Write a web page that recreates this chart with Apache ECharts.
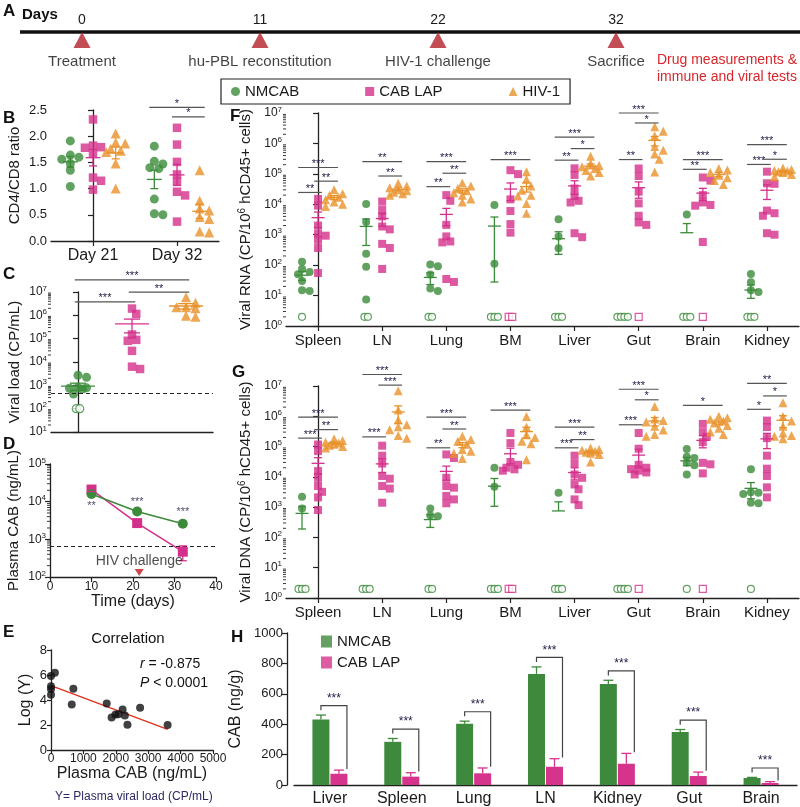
<!DOCTYPE html>
<html><head><meta charset="utf-8">
<script src="https://cdn.jsdelivr.net/npm/echarts/dist/echarts.min.js"></script>
<style>html,body{margin:0;padding:0;background:#fff}#c{width:800px;height:807px}</style>
</head><body><div id="c"></div>
<script>
// ===================== DATA =====================
// Panel A
const timelineDays = ['0', '11', '22', '32'];
const timelineEvents = ['Treatment', 'hu-PBL reconstitution', 'HIV-1 challenge', 'Sacrifice'];
const groupNames = ['NMCAB', 'CAB LAP', 'HIV-1'];
// Panel B (CD4/CD8 ratio), per day
const bDays = ['Day 21', 'Day 32'];
const bNMCAB = [[1.91, 1.64, 1.60, 1.56, 1.48, 1.35, 1.04], [1.81, 1.52, 1.47, 1.40, 1.38, 0.80, 0.50, 0.52]];
const bCABLAP = [[2.32, 1.82, 1.79, 1.78, 1.67, 1.21, 1.15, 0.98], [2.16, 1.84, 1.51, 1.27, 1.13, 0.94, 0.87, 0.37]];
const bHIV = [[2.05, 1.88, 1.86, 1.76, 1.72, 1.70, 1.48, 1.00], [1.35, 0.77, 0.62, 0.58, 0.46, 0.42, 0.18, 0.16]];
// Panel C (viral load CP/mL)
const cNMCAB = [2700, 2200, 800, 780, 750, 700, 420];
const cNMCABundetected = 2;
const cCABLAP = [1.95e6, 1.15e6, 1.5e5, 8.9e4, 8.1e4, 3.0e4, 6.3e3, 5.0e3];
const cHIV = [5.9e6, 3.5e6, 2.2e6, 2.2e6, 2.0e6, 9.5e5, 8.7e5];
const cDetectionLimit = 450;
// Panel D (plasma CAB)
const dDays = [10, 21, 32];
const dNMCAB = [16000, 5500, 2600];
const dNMCABsem = [1500, 500, 250];
const dCABLAP = [21000, 2700, 470];
const dCABLAPsem = [2500, 300, 200];
const dDetectionLimit = 650;
const dStars = ['**', '***', '***'];
const dChallengeDay = 21.5;
// Panel E (correlation)
const eCAB = [0, 0, 0, 0, 120, 690, 640, 1720, 1870, 1990, 2080, 2210, 2280, 2360, 2750, 3600];
const eLogY = [5.92, 5.10, 4.88, 4.42, 6.19, 4.90, 3.65, 3.73, 2.60, 2.85, 2.87, 3.25, 2.77, 2.03, 3.39, 2.00];
const eFitLine = [[0, 5.15], [3600, 1.65]];
const eR = '-0.875', eP = '< 0.0001';
// Panels F/G tissues
const tissuesFG = ['Spleen', 'LN', 'Lung', 'BM', 'Liver', 'Gut', 'Brain', 'Kidney'];
// F: viral RNA
const fNMCAB = [[130, 75, 60, 50, 30, 15, 14], [10200, 2600, 235, 88, 7.4], [104, 92, 49, 17, 14], [9500, 112], [3200, 870, 360], [], [4650], [51, 27.6, 15, 13]];
const fNMCABundetected = [1, 2, 2, 3, 3, 4, 3, 3];
const fCABLAP = [[15000, 9000, 2000, 1080, 930, 680, 365, 55], [12300, 6600, 4000, 1860, 1500, 500, 365, 75], [20000, 13000, 2100, 880, 600, 560, 35, 28], [132000, 98000, 14500, 6000, 2230, 1170], [152000, 92000, 33000, 18500, 13000, 11500, 1120, 830], [150000, 85000, 26000, 10700, 4200, 2530, 2100], [76000, 60000, 20000, 11500, 9500, 9000, 575], [118000, 49000, 47000, 6200, 5100, 4200, 1120, 1000]];
const fCABLAPundetected = [0, 0, 0, 2, 0, 1, 1, 0];
const fHIV = [[30000, 22000, 20000, 17000, 14000, 12000, 10000, 8500], [49000, 40000, 35000, 30000, 28000, 25000, 22000, 20000], [50000, 40000, 33000, 28000, 24000, 20000, 15000, 12000], [117000, 66000, 40000, 29000, 20000, 18800, 10700, 5100], [380000, 220000, 190000, 170000, 150000, 130000, 110000, 85000], [3.5e6, 2.5e6, 1.8e6, 800000, 600000, 450000, 300000, 115000], [150000, 135000, 110000, 90000, 75000, 60000, 45000], [155000, 140000, 130000, 125000, 118000, 110000, 95000, 80000]];
// G: viral DNA
const gNMCAB = [[2200, 910], [], [910, 530, 500], [20000, 4700], [3000], [], [83000, 46000, 42000, 29000, 24000, 12000], [17700, 3100, 3000, 2700, 1400, 1340]];
const gNMCABundetected = [3, 3, 2, 3, 3, 4, 1, 1];
const gCABLAP = [[117000, 71000, 15500, 9300, 5000, 3200, 2100, 800], [107000, 50000, 27500, 10700, 8700, 5000, 4100, 1400], [55000, 42000, 9300, 5000, 4400, 2350, 1800, 1340], [280000, 130000, 31000, 25000, 20000, 17700, 16000], [50000, 27500, 12000, 9300, 5600, 3900, 1800, 1170], [280000, 85000, 25000, 20000, 18000, 16000, 14000, 12000], [560000, 300000, 210000, 140000, 29000, 26000, 13000], [720000, 440000, 190000, 50000, 18600, 10700, 4500, 2100]];
const gCABLAPundetected = [0, 0, 0, 2, 0, 1, 1, 0];
const gHIV = [[180000, 160000, 140000, 130000, 120000, 110000, 100000, 90000], [7e6, 1.6e6, 770000, 530000, 450000, 360000, 230000, 190000], [220000, 170000, 150000, 120000, 80000, 70000, 60000, 40000], [980000, 440000, 245000, 200000, 150000, 125000, 37000], [90000, 80000, 75000, 70000, 65000, 60000, 55000, 31000], [2.1e6, 810000, 720000, 650000, 470000, 350000, 250000, 220000], [1e6, 900000, 800000, 700000, 600000, 500000, 400000, 300000, 250000], [2.8e6, 980000, 700000, 470000, 280000, 230000, 220000, 180000]];
// H: tissue CAB (ng/g)
const hTissues = ['Liver', 'Spleen', 'Lung', 'LN', 'Kidney', 'Gut', 'Brain'];
const hNMCAB = [431, 284, 403, 731, 665, 348, 46];
const hNMCABsem = [29, 22, 17, 46, 24, 17, 4];
const hCABLAP = [74, 55, 77, 120, 140, 59, 13];
const hCABLAPsem = [24, 26, 35, 53, 68, 26, 9];
const hStars = ['***', '***', '***', '***', '***', '***', '***'];

// ===================== STYLE / HELPERS =====================
const FONT = 'Arial, "Liberation Sans", Helvetica, sans-serif';
const C_G = '#3b8b3a', C_P = '#d4308b', C_O = '#e8912b', C_AX = '#222', C_STAR = '#22224a', C_SIG = '#555';
const COLS = [C_G, C_P, C_O];
const SYMS = ['circle', 'rect', 'triangle'];
const grid = [], xAxis = [], yAxis = [], series = [];
const G = o => (grid.push(o), grid.length - 1);
const X = o => (xAxis.push(o), xAxis.length - 1);
const Y = o => (yAxis.push(o), yAxis.length - 1);
const axLine = { show: true, lineStyle: { color: C_AX, width: 1.3 } };
const tickOut = len => ({ show: true, length: len, inside: false, lineStyle: { color: C_AX, width: 1.2 } });
const lbl = (fs, extra) => Object.assign({ color: '#1a1a1a', fontSize: fs, fontFamily: FONT }, extra || {});
const supRich = { b: { fontSize: 12, fontFamily: FONT, color: '#222' }, s: { fontSize: 8, fontFamily: FONT, color: '#222', padding: [0, 0, 7, 0] } };
const logFmt = v => '{b|10}{s|' + Math.round(Math.log10(v)) + '}';
const plain = v => String(v);
const nameRich = { s: { fontSize: 10, fontFamily: FONT, color: '#222', padding: [0, 0, 7, 0] } };

// compact beeswarm: few lateral slots, overlap allowed when crowded
function swarm(vals, tf, pxY, size) {
  const order = vals.map((v, i) => i).sort((a, b) => tf(vals[b]) - tf(vals[a]));
  const placed = [], dx = new Array(vals.length).fill(0);
  const slots = [0, 0.5, -0.5, 0.95, -0.95].map(s => s * size);
  const minD = size * 0.75;
  order.forEach(i => {
    const y = tf(vals[i]) * pxY;
    let best = 0, bestD = -1;
    for (const cand of slots) {
      const d = placed.length ? Math.min(...placed.map(p => Math.hypot(p.x - cand, p.y - y))) : 1e9;
      if (d >= minD) { best = cand; bestD = d; break; }
      if (d > bestD) { bestD = d; best = cand; }
    }
    placed.push({ x: best, y }); dx[i] = best;
  });
  return dx;
}

function errSeries(xi, yi, items, color, meanW, capW) {
  return {
    type: 'custom', xAxisIndex: xi, yAxisIndex: yi, silent: true, z: 6, clip: false, data: items,
    renderItem(p, api) {
      const x = api.value(0), m = api.value(1), s = api.value(2);
      const pm = api.coord([x, m]), pt = api.coord([x, m + s]);
      const st = { stroke: color, lineWidth: 1.3 };
      const ch = [
        { type: 'line', shape: { x1: pm[0] - meanW / 2, y1: pm[1], x2: pm[0] + meanW / 2, y2: pm[1] }, style: st },
        { type: 'line', shape: { x1: pm[0], y1: pm[1], x2: pm[0], y2: pt[1] }, style: st },
        { type: 'line', shape: { x1: pm[0] - capW / 2, y1: pt[1], x2: pm[0] + capW / 2, y2: pt[1] }, style: st }
      ];
      if (m - s > 0) {
        const pb = api.coord([x, m - s]);
        ch.push({ type: 'line', shape: { x1: pm[0], y1: pm[1], x2: pm[0], y2: pb[1] }, style: st });
        ch.push({ type: 'line', shape: { x1: pm[0] - capW / 2, y1: pb[1], x2: pm[0] + capW / 2, y2: pb[1] }, style: st });
      }
      return { type: 'group', children: ch };
    }
  };
}

function dotPanel(o) {
  const tf = o.log ? (v => Math.log10(v)) : (v => v);
  o.groups.forEach((cats, k) => {
    const pts = [], open = [], errs = [];
    cats.forEach((vals, c) => {
      const dx = swarm(vals, tf, o.pxY, o.sizes[k]);
      vals.forEach((v, i) => pts.push([c + o.off[k] + dx[i] / o.pxX, v]));
      const nd = (o.nd && o.nd[k]) ? o.nd[k][c] : 0;
      for (let j = 0; j < nd; j++) open.push([c + o.off[k] + (j - (nd - 1) / 2) * 3.5 / o.pxX, o.ndValue]);
      if (vals.length) {
        const all = vals.concat(new Array(nd).fill(0));
        const n = all.length, m = all.reduce((a, b) => a + b, 0) / n;
        const sd = Math.sqrt(all.reduce((a, b) => a + (b - m) * (b - m), 0) / (n - 1));
        errs.push([c + o.off[k], m, sd / Math.sqrt(n)]);
      }
    });
    series.push({ type: 'scatter', name: groupNames[k], xAxisIndex: o.xi, yAxisIndex: o.yi, symbol: SYMS[k], symbolSize: o.sizes[k], itemStyle: { color: COLS[k] }, data: pts, z: 4, markLine: (k === 0 && o.lod) ? { silent: true, symbol: 'none', label: { show: false }, lineStyle: { type: [4, 3], color: '#222', width: 1 }, data: [{ yAxis: o.lod }] } : undefined });
    if (open.length) series.push({ type: 'scatter', name: groupNames[k], xAxisIndex: o.xi, yAxisIndex: o.yi, symbol: SYMS[k], symbolSize: o.sizes[k] - 1, itemStyle: { color: '#fff', borderColor: COLS[k], borderWidth: 1.2 }, data: open, z: 4 });
    series.push(errSeries(o.xi, o.yi, errs, COLS[k], o.meanW, o.capW));
  });
}

function sigSeries(xi, yi, items, off) {
  return {
    type: 'custom', xAxisIndex: xi, yAxisIndex: yi, silent: true, z: 7, clip: false,
    encode: { x: [0, 1], y: 2 },
    data: items.map(s => [s[0] + off[s[1]] - 0.06, s[0] + off[s[2]] + 0.06, s[3]]),
    renderItem(p, api) {
      const a = api.coord([api.value(0), api.value(2)]), b = api.coord([api.value(1), api.value(2)]);
      return { type: 'group', children: [
        { type: 'line', shape: { x1: a[0], y1: a[1], x2: b[0], y2: b[1] }, style: { stroke: C_SIG, lineWidth: 1.2 } },
        { type: 'text', x: (a[0] + b[0]) / 2, y: a[1] + 2, style: { text: items[p.dataIndex][4], fill: C_STAR, font: '11px ' + FONT, align: 'center', verticalAlign: 'bottom' } }
      ] };
    }
  };
}

function logMinor(xi, yi, xAt, lo, hi) {
  const vals = [];
  for (let e = lo; e < hi; e++) for (let k = 2; k <= 9; k++) vals.push([xAt, k * Math.pow(10, e)]);
  return { type: 'custom', xAxisIndex: xi, yAxisIndex: yi, silent: true, clip: false, z: 3, data: vals,
    renderItem(p, api) { const c = api.coord([api.value(0), api.value(1)]); return { type: 'line', shape: { x1: c[0] - 3, y1: c[1], x2: c[0], y2: c[1] }, style: { stroke: C_AX, lineWidth: 0.9 } }; } };
}

function logY(gi, min, max, name, gap, nameIsRich) {
  return Y({ gridIndex: gi, type: 'log', logBase: 10, min, max, splitNumber: 8, axisLine: axLine, axisTick: tickOut(5), splitLine: { show: false },
    axisLabel: { formatter: logFmt, rich: supRich, margin: 4 }, name, nameLocation: 'middle', nameGap: gap, nameRotate: 90,
    nameTextStyle: lbl(15, nameIsRich ? { rich: nameRich } : {}) });
}

// ===================== PANEL A =====================
const gA = G({ left: 82, top: 32, width: 534, height: 20 });
const xA = X({ gridIndex: gA, type: 'category', data: timelineDays, boundaryGap: false, position: 'top', axisLine: { show: false }, axisTick: { show: false }, axisLabel: lbl(14, { margin: 5 }) });
const yA = Y({ gridIndex: gA, type: 'value', min: 0, max: 1, show: false });
series.push({ type: 'scatter', xAxisIndex: xA, yAxisIndex: yA, symbol: 'triangle', symbolSize: [17, 16], itemStyle: { color: '#b3212a' }, z: 5,
  data: timelineDays.map((d, i) => ({ value: [i, 0.6], name: timelineEvents[i] })),
  label: { show: true, position: 'bottom', distance: 6, formatter: '{b}', color: '#111', textBorderWidth: 0, fontSize: 15, fontFamily: FONT } });

// ===================== PANEL B =====================
const gB = G({ left: 51, top: 110, width: 168, height: 131 });
const xBc = X({ gridIndex: gB, type: 'category', data: bDays, axisLine: axLine, axisTick: { show: true, alignWithLabel: true, length: 5, lineStyle: { color: C_AX, width: 1.2 } }, axisLabel: lbl(16, { margin: 7 }) });
const xBv = X({ gridIndex: gB, type: 'value', min: -0.5, max: 1.5, show: false });
const yB = Y({ gridIndex: gB, type: 'value', min: 0, max: 2.5, interval: 0.5, axisLine: axLine, axisTick: tickOut(5), splitLine: { show: false },
  axisLabel: lbl(13, { formatter: v => v.toFixed(1), margin: 4 }), name: 'CD4/CD8 ratio', nameLocation: 'middle', nameGap: 29, nameTextStyle: lbl(15) });
const offB = [-0.27, 0, 0.27];
dotPanel({ xi: xBv, yi: yB, groups: [bNMCAB, bCABLAP, bHIV], off: offB, pxX: 84, pxY: 52.4, log: false, sizes: [9, 8.5, 10], meanW: 15, capW: 8 });
series.push(sigSeries(xBv, yB, [[1, 0, 2, 2.55, '*'], [1, 1, 2, 2.37, '*']], offB));

// ===================== PANEL C =====================
const gC = G({ left: 51, top: 292, width: 162, height: 140 });
const xCv = X({ gridIndex: gC, type: 'value', min: -0.5, max: 2.5, axisLine: axLine, axisTick: { show: false }, axisLabel: { show: false }, splitLine: { show: false } });
const yC = logY(gC, 10, 1e7, 'Viral load (CP/mL)', 29);
const offC = [0, 1, 2];
dotPanel({ xi: xCv, yi: yC, groups: [[cNMCAB], [cCABLAP], [cHIV]], nd: [[cNMCABundetected], [0], [0]], ndValue: 100, off: offC, pxX: 54, pxY: 23.3, log: true, sizes: [9, 8.5, 10], meanW: 34, capW: 16, lod: cDetectionLimit });
series.push(logMinor(xCv, yC, -0.5, 1, 7));
series.push(sigSeries(xCv, yC, [[0, 0, 1, 3.8e6, '***'], [0, 1, 2, 9.8e6, '**'], [0, 0, 2, 3.3e7, '***']], offC));

// ===================== PANEL D =====================
const gD = G({ left: 50, top: 464, width: 166, height: 113 });
const xD = X({ gridIndex: gD, type: 'value', min: 0, max: 40, interval: 10, axisLine: axLine, axisTick: tickOut(5), splitLine: { show: false },
  axisLabel: lbl(12, { margin: 4 }), name: 'Time (days)', nameLocation: 'middle', nameGap: 17, nameTextStyle: lbl(16) });
const yD = logY(gD, 100, 1e5, 'Plasma CAB (ng/mL)', 29);
series.push(logMinor(xD, yD, 0, 2, 5));
series.push({ type: 'line', name: 'NMCAB', xAxisIndex: xD, yAxisIndex: yD, data: dDays.map((d, i) => [d, dNMCAB[i]]), symbol: 'circle', symbolSize: 10, lineStyle: { color: C_G, width: 1.5 }, itemStyle: { color: C_G }, z: 5,
  markLine: { silent: true, symbol: 'none', label: { show: false }, lineStyle: { type: [4, 3], color: '#222', width: 1 }, data: [{ yAxis: dDetectionLimit }] } });
series.push({ type: 'line', name: 'CAB LAP', xAxisIndex: xD, yAxisIndex: yD, data: dDays.map((d, i) => [d, dCABLAP[i]]), symbol: 'rect', symbolSize: 10, lineStyle: { color: C_P, width: 1.5 }, itemStyle: { color: C_P }, z: 4 });
series.push(errSeries(xD, yD, dDays.map((d, i) => [d, dNMCAB[i], dNMCABsem[i]]), C_G, 0, 8));
series.push(errSeries(xD, yD, dDays.map((d, i) => [d, dCABLAP[i], dCABLAPsem[i]]), C_P, 0, 8));
const dStarY = [7500, 10000, 5400];
series.push({ type: 'scatter', xAxisIndex: xD, yAxisIndex: yD, symbolSize: 0, silent: true, z: 6,
  data: dStars.map((s, i) => ({ value: [dDays[i], dStarY[i]], name: s })),
  label: { show: true, position: 'inside', formatter: '{b}', color: C_STAR, fontSize: 11, fontFamily: FONT } });
series.push({ type: 'scatter', xAxisIndex: xD, yAxisIndex: yD, symbol: 'triangle', symbolRotate: 180, symbolSize: [9, 7], itemStyle: { color: '#c4161c' }, z: 6,
  data: [{ value: [dChallengeDay, 131], name: 'HIV challenge' }],
  label: { show: true, position: 'top', distance: 1, formatter: '{b}', color: '#222', fontSize: 14, fontFamily: FONT } });

// ===================== PANEL E =====================
const gE = G({ left: 51, top: 650, width: 162, height: 100 });
const xE = X({ gridIndex: gE, type: 'value', min: 0, max: 5000, interval: 1000, axisLine: axLine, axisTick: tickOut(4), splitLine: { show: false },
  axisLabel: lbl(12, { margin: 3, formatter: plain }), name: 'Plasma CAB (ng/mL)', nameLocation: 'middle', nameGap: 16, nameTextStyle: lbl(16) });
const yE = Y({ gridIndex: gE, type: 'value', min: 0, max: 8, interval: 2, axisLine: axLine, axisTick: tickOut(4), splitLine: { show: false },
  axisLabel: lbl(13, { margin: 4 }), name: 'Log (Y)', nameLocation: 'middle', nameGap: 17, nameTextStyle: lbl(16) });
series.push({ type: 'line', xAxisIndex: xE, yAxisIndex: yE, data: eFitLine, symbol: 'none', lineStyle: { color: '#e2311d', width: 1.4 }, z: 3 });
series.push({ type: 'scatter', xAxisIndex: xE, yAxisIndex: yE, data: eCAB.map((x, i) => [x, eLogY[i]]), symbol: 'circle', symbolSize: 8, itemStyle: { color: '#111' }, z: 4 });

// ===================== PANELS F & G =====================
const offFG = [-0.25, 0, 0.25];
function fgPanel(top, height, grpData, ndData, name, sig) {
  const gi = G({ left: 286, top, width: 513, height });
  X({ gridIndex: gi, type: 'category', data: tissuesFG, axisLine: axLine, axisTick: { show: true, alignWithLabel: true, length: 5, lineStyle: { color: C_AX, width: 1.2 } }, axisLabel: lbl(15, { margin: 7 }) });
  const xv = X({ gridIndex: gi, type: 'value', min: -0.5, max: 7.5, show: false });
  const yi = logY(gi, 1, 1e7, name, 21, true);
  series.push(logMinor(xv, yi, -0.5, 0, 7));
  dotPanel({ xi: xv, yi, groups: grpData, nd: ndData, ndValue: 2, off: offFG, pxX: 64.1, pxY: height / 7, log: true, sizes: [8, 8, 9], meanW: 13, capW: 8 });
  series.push(sigSeries(xv, yi, sig, offFG));
}
fgPanel(113, 213, [fNMCAB, fCABLAP, fHIV], [fNMCABundetected, fCABLAPundetected, null], 'Viral RNA (CP/10{s|6} hCD45+ cells)', [
  [0, 0, 1, 24500, '**'], [0, 1, 2, 57500, '**'], [0, 0, 2, 162000, '***'],
  [1, 0, 2, 251000, '**'], [1, 1, 2, 85000, '**'],
  [2, 0, 1, 38000, '**'], [2, 1, 2, 105000, '**'], [2, 0, 2, 251000, '***'],
  [3, 0, 2, 295000, '***'],
  [4, 0, 1, 282000, '**'], [4, 1, 2, 676000, '*'], [4, 0, 2, 1.6e6, '***'],
  [5, 0, 1, 295000, '**'], [5, 1, 2, 4.7e6, '*'], [5, 0, 2, 1e7, '***'],
  [6, 0, 1, 141000, '**'], [6, 0, 2, 295000, '***'],
  [7, 0, 1, 204000, '***'], [7, 1, 2, 302000, '*'], [7, 0, 2, 912000, '***']]);
fgPanel(386, 212, [gNMCAB, gCABLAP, gHIV], [gNMCABundetected, gCABLAPundetected, null], 'Viral DNA (CP/10{s|6} hCD45+ cells)', [
  [0, 0, 1, 190000, '***'], [0, 1, 2, 363000, '**'], [0, 0, 2, 933000, '***'],
  [1, 0, 1, 209000, '***'], [1, 1, 2, 1.07e7, '***'], [1, 0, 2, 2.4e7, '***'],
  [2, 0, 1, 91000, '**'], [2, 1, 2, 380000, '**'], [2, 0, 2, 933000, '***'],
  [3, 0, 2, 1.6e6, '***'],
  [4, 0, 1, 91000, '***'], [4, 1, 2, 170000, '**'], [4, 0, 2, 437000, '***'],
  [5, 0, 1, 525000, '***'], [5, 1, 2, 3.5e6, '*'], [5, 0, 2, 7.8e6, '***'],
  [6, 0, 2, 2.3e6, '*'],
  [7, 0, 1, 1.7e6, '*'], [7, 1, 2, 4.7e6, '*'], [7, 0, 2, 1.23e7, '**']]);

// ===================== PANEL H =====================
const HG = '#3d8a3c', HP = '#d6338d';
const gH = G({ left: 294, top: 633, width: 503, height: 153 });
const xH = X({ gridIndex: gH, type: 'category', data: hTissues, axisLine: axLine, axisTick: { show: false }, axisLabel: lbl(16, { margin: 6 }) });
const yH = Y({ gridIndex: gH, type: 'value', min: 0, max: 1000, interval: 200, offset: 7, axisLine: axLine, axisTick: tickOut(5), splitLine: { show: false },
  axisLabel: lbl(13, { margin: 4, formatter: plain }), name: 'CAB (ng/g)', nameLocation: 'middle', nameGap: 36, nameTextStyle: lbl(16) });
series.push({ type: 'bar', name: 'NMCAB', xAxisIndex: xH, yAxisIndex: yH, data: hNMCAB, barWidth: 17, barGap: '6%', itemStyle: { color: HG }, z: 3 });
series.push({ type: 'bar', name: 'CAB LAP', xAxisIndex: xH, yAxisIndex: yH, data: hCABLAP, barWidth: 17, barGap: '6%', itemStyle: { color: HP }, z: 3 });
function hErr(vals, sems, color, shift) {
  return { type: 'custom', xAxisIndex: xH, yAxisIndex: yH, silent: true, z: 4, data: vals.map((v, i) => [i, v, sems[i]]),
    renderItem(p, api) {
      const i = api.value(0), v = api.value(1), s = api.value(2);
      const a = api.coord([i, v]), b = api.coord([i, v + s]); const x = a[0] + shift;
      const st = { stroke: color, lineWidth: 1.3 };
      return { type: 'group', children: [
        { type: 'line', shape: { x1: x, y1: a[1], x2: x, y2: b[1] }, style: st },
        { type: 'line', shape: { x1: x - 5, y1: b[1], x2: x + 5, y2: b[1] }, style: st }] };
    } };
}
series.push(hErr(hNMCAB, hNMCABsem, HG, -9));
series.push(hErr(hCABLAP, hCABLAPsem, HP, 9));
series.push({ type: 'custom', xAxisIndex: xH, yAxisIndex: yH, silent: true, z: 5,
  data: hTissues.map((t, i) => [i, hNMCAB[i] + hNMCABsem[i], hCABLAP[i] + hCABLAPsem[i]]),
  renderItem(p, api) {
    const i = api.value(0), gTop = api.value(1), pTop = api.value(2);
    const c = api.coord([i, gTop + 62]);
    const yl = api.coord([i, gTop + 32])[1], yr = api.coord([i, pTop + 8])[1];
    const xl = c[0] - 9, xr = c[0] + 17;
    const st = { stroke: '#444', lineWidth: 1.2 };
    return { type: 'group', children: [
      { type: 'polyline', shape: { points: [[xl, yl], [xl, c[1]], [xr, c[1]], [xr, yr]] }, style: Object.assign({ fill: null }, st) },
      { type: 'text', x: (xl + xr) / 2, y: c[1] - 1, style: { text: hStars[p.dataIndex], fill: C_STAR, font: '12px ' + FONT, align: 'center', verticalAlign: 'bottom' } }] };
  } });

// ===================== GRAPHICS / TEXT =====================
const TX = (text, x, y, extra) => ({ type: 'text', x, y, style: Object.assign({ text, fill: '#111', font: '15px ' + FONT, align: 'left', verticalAlign: 'top' }, extra || {}) });
const letters = [['A', 3, 3], ['B', 3, 110], ['C', 3, 266], ['D', 3, 436], ['E', 3, 624], ['F', 230, 108], ['G', 232, 364], ['H', 231, 629]];
const italic = { i: { fontStyle: 'italic', fontSize: 14, fontFamily: FONT, fill: '#111' } };
const graphic = [
  { type: 'line', shape: { x1: 20, y1: 32, x2: 800, y2: 32 }, style: { stroke: '#111', lineWidth: 3.5 }, z: 1 },
  TX('Days', 22, 7, { font: 'bold 15px ' + FONT }),
  TX('Drug measurements &\nimmune and viral tests', 797, 52, { fill: '#d7262b', font: '14px ' + FONT, align: 'right', lineHeight: 17 }),
  TX('Correlation', 128, 639, { align: 'center', verticalAlign: 'middle' }),
  TX('{i|r} = ' + eR, 140, 657, { font: '14px ' + FONT, rich: italic }),
  TX('{i|P} ' + eP, 140, 676, { font: '14px ' + FONT, rich: italic }),
  TX('Y= Plasma viral load (CP/mL)', 55, 791, { fill: '#2b2b63', font: '12px ' + FONT })
].concat(letters.map(l => TX(l[0], l[1], l[2], { font: 'bold 17px ' + FONT })));

const option = {
  animation: false,
  textStyle: { fontFamily: FONT },
  grid, xAxis, yAxis, series, graphic,
  legend: [
    { left: 221, top: 79, orient: 'horizontal', padding: [5, 10, 5, 10], itemGap: 66, itemWidth: 9, itemHeight: 9, borderColor: '#222', borderWidth: 1.2, selectedMode: false,
      textStyle: lbl(15), data: [{ name: 'NMCAB', icon: 'circle', itemStyle: { color: C_G } }, { name: 'CAB LAP', icon: 'rect', itemStyle: { color: C_P } }, { name: 'HIV-1', icon: 'triangle', itemStyle: { color: C_O } }] },
    { left: 321, top: 634, orient: 'vertical', padding: 0, itemGap: 6, itemWidth: 11, itemHeight: 12, selectedMode: false,
      textStyle: lbl(15), data: [{ name: 'NMCAB', icon: 'rect', itemStyle: { color: HG } }, { name: 'CAB LAP', icon: 'rect', itemStyle: { color: HP } }] }
  ]
};
const chart = echarts.init(document.getElementById('c'), null, { width: 800, height: 807 });
chart.setOption(option);
</script></body></html>
